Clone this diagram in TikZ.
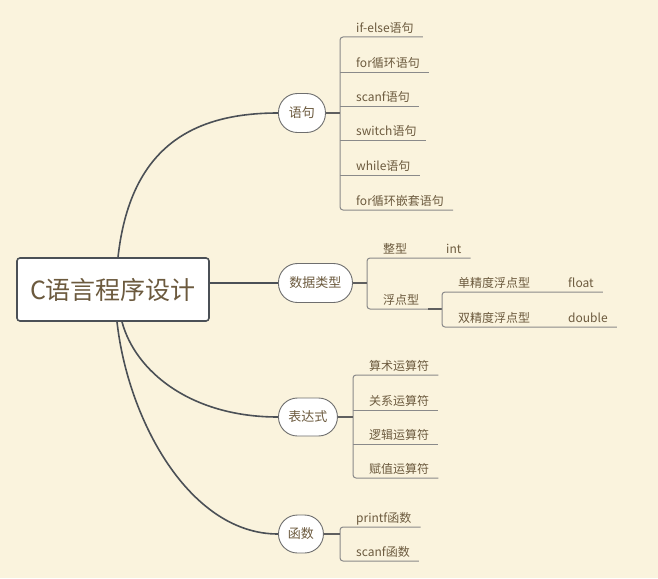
\documentclass[tikz,border=0pt]{standalone}
\usepackage{fontspec}
\setmainfont{Noto Sans CJK SC}
\usetikzlibrary{calc}
\definecolor{bgc}{RGB}{250,243,221}
\definecolor{txt}{RGB}{108,90,62}
\definecolor{mainline}{RGB}{75,80,86}
\definecolor{leafc}{RGB}{138,138,138}
\definecolor{connc}{RGB}{95,95,95}
\definecolor{bordc}{RGB}{110,110,110}
\begin{document}
\begin{tikzpicture}[x=1pt,y=-1pt,
  rootbox/.style={draw=mainline,line width=1.6pt,fill=white,rounded corners=3pt,
    minimum width=192pt,minimum height=63pt,inner sep=0pt,text=txt,
    font=\fontsize{25}{30}\selectfont},
  topic/.style={draw=bordc,line width=0.9pt,fill=white,rounded corners=19pt,
    minimum height=39pt,inner sep=0pt,anchor=west,text=txt,
    font=\fontsize{13}{15}\selectfont},
  leaf/.style={anchor=base west,inner xsep=9pt,inner ysep=0pt,text=txt,
    font=\fontsize{12}{14}\selectfont},
  mainconn/.style={draw=mainline,line width=1.6pt},
  conn/.style={draw=connc,line width=1.3pt},
  leafline/.style={draw=leafc,line width=1pt},
]
\fill[bgc] (0,0) rectangle (658,578);
\useasboundingbox (0,0) rectangle (658,578);

% root
\node[rootbox] (root) at (113,289.5) {C语言程序设计};

% topics
\node[topic,minimum width=47pt] (yj) at (278,113) {语句};
\node[topic,minimum width=74pt] (dt) at (278,283) {数据类型};
\node[topic,minimum width=59pt,minimum height=38pt] (bd) at (278,417) {表达式};
\node[topic,minimum width=45pt,minimum height=38pt] (hs) at (278,534) {函数};

% main connectors
\coordinate (r1) at ($(root.north)+(5,0)$);
\coordinate (r3) at ($(root.south)+(9,0)$);
\coordinate (r4) at ($(root.south)+(4,0)$);
\draw[mainconn] (r1) .. controls +(12,-108) and +(-88,0) .. (yj.west);
\draw[mainconn] (root.east |- dt.west) -- (dt.west);
\draw[mainconn] (r3) .. controls +(13,49) and +(-88,0) .. (bd.west);
\draw[mainconn] (r4) .. controls +(11,99) and +(-88,0) .. (hs.west);

% ---------- 语句 ----------
\coordinate (y0) at (340,113);
\coordinate (ya1) at (340,37);
\coordinate (ya2) at (340,72);
\coordinate (ya3) at (340,106);
\coordinate (ya4) at (340,140);
\coordinate (ya5) at (340,175);
\coordinate (ya6) at (340,210);
\node[leaf] (a1) at (347,32.5) {if-else语句};
\node[leaf] (a2) at (347,67.5) {for循环语句};
\node[leaf] (a3) at (347,101.5) {scanf语句};
\node[leaf] (a4) at (347,135.5) {switch语句};
\node[leaf] (a5) at (347,170.5) {while语句};
\node[leaf] (a6) at (347,205.5) {for循环嵌套语句};
\draw[leafline,rounded corners=3pt] (a1.east |- ya1) -- (ya1) -- (ya6) -- (a6.east |- ya6);
\draw[leafline] (ya2) -- (a2.east |- ya2);
\draw[leafline] (ya3) -- (a3.east |- ya3);
\draw[leafline] (ya4) -- (a4.east |- ya4);
\draw[leafline] (ya5) -- (a5.east |- ya5);
\draw[conn] (yj.east) -- (y0);

% ---------- 数据类型 ----------
\coordinate (d0) at (367,283);
\coordinate (db1) at (367,258);
\coordinate (db2) at (367,309);
\node[leaf] (b1) at (374,253.5) {整型};
\node[leaf] (b2) at (437,253.5) {int};
\node[leaf] (b3) at (374,304.5) {浮点型};
\coordinate (e0) at (442,309);
\coordinate (ec1) at (442,292);
\coordinate (ec2) at (442,327);
\node[leaf] (c1) at (449,287.5) {单精度浮点型};
\node[leaf] (c3) at (559,287.5) {float};
\node[leaf] (c2) at (449,322.5) {双精度浮点型};
\node[leaf] (c4) at (559,322.5) {double};
\draw[leafline,rounded corners=3pt] (b2.east |- db1) -- (db1) -- (db2) -- (b3.east |- db2);
\draw[conn] (b3.east |- db2) -- (e0);
\draw[leafline,rounded corners=3pt] (c3.east |- ec1) -- (ec1) -- (ec2) -- (c4.east |- ec2);
\draw[conn] (dt.east) -- (d0);

% ---------- 表达式 ----------
\coordinate (f0) at (353,417);
\coordinate (fa1) at (353,375);
\coordinate (fa2) at (353,410);
\coordinate (fa3) at (353,444);
\coordinate (fa4) at (353,478);
\node[leaf] (g1) at (360,370.5) {算术运算符};
\node[leaf] (g2) at (360,405.5) {关系运算符};
\node[leaf] (g3) at (360,439.5) {逻辑运算符};
\node[leaf] (g4) at (360,473.5) {赋值运算符};
\draw[leafline,rounded corners=3pt] (g1.east |- fa1) -- (fa1) -- (fa4) -- (g4.east |- fa4);
\draw[leafline] (fa2) -- (g2.east |- fa2);
\draw[leafline] (fa3) -- (g3.east |- fa3);
\draw[conn] (bd.east) -- (f0);

% ---------- 函数 ----------
\coordinate (h0) at (340,534);
\coordinate (ha1) at (340,527);
\coordinate (ha2) at (340,561);
\node[leaf] (k1) at (347,522.5) {printf函数};
\node[leaf] (k2) at (347,556.5) {scanf函数};
\draw[leafline,rounded corners=3pt] (k1.east |- ha1) -- (ha1) -- (ha2) -- (k2.east |- ha2);
\draw[conn] (hs.east) -- (h0);
\end{tikzpicture}
\end{document}
